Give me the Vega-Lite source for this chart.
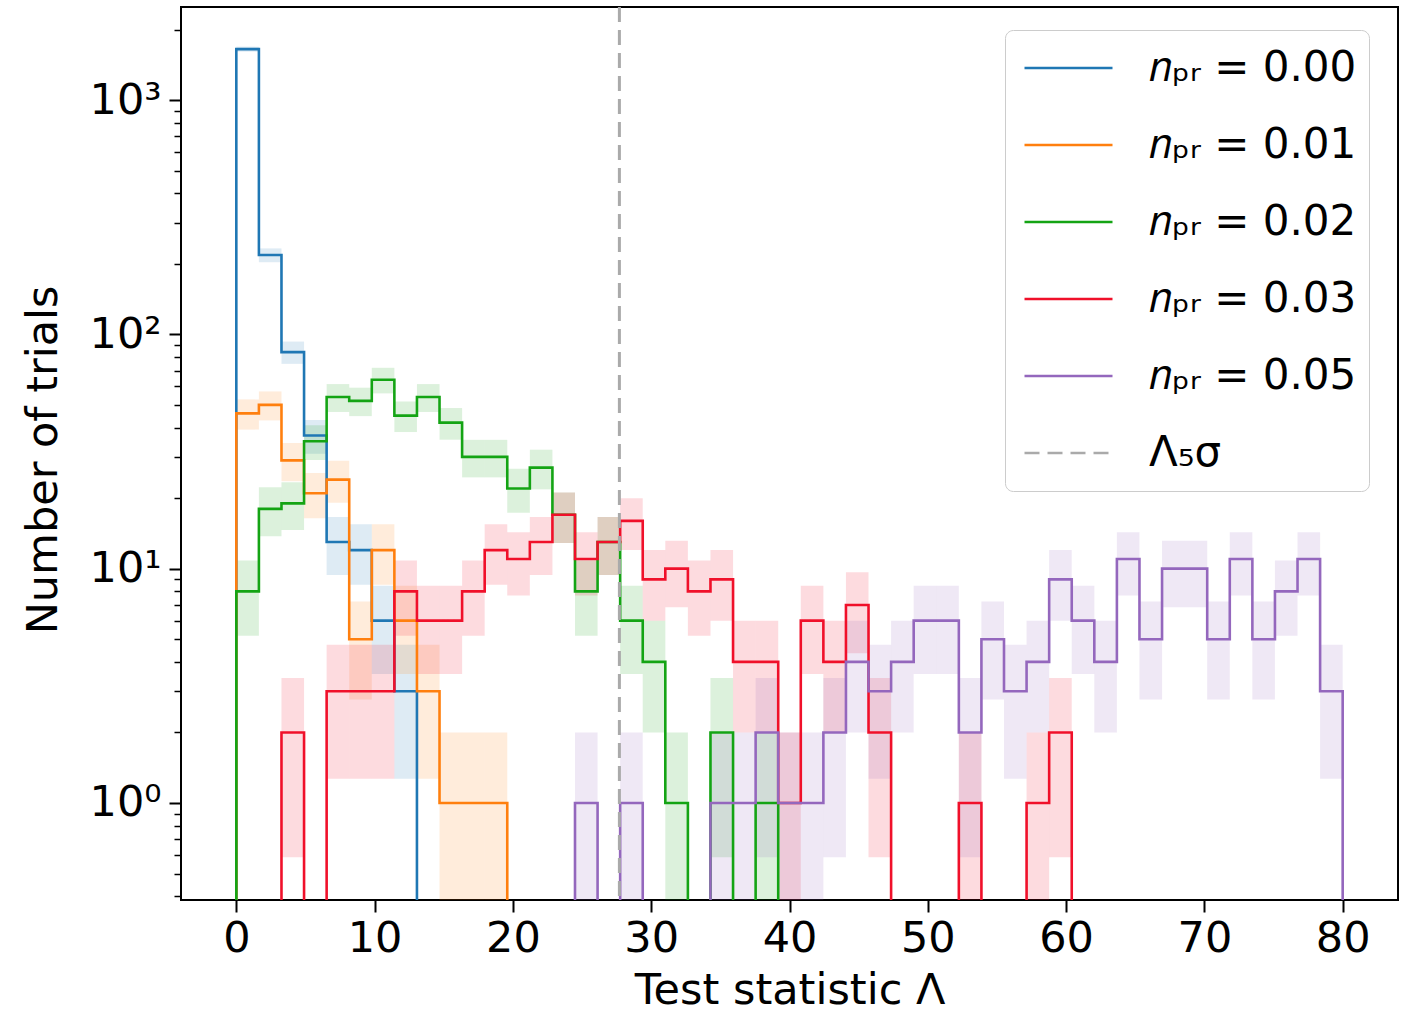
{
  "$schema": "https://vega.github.io/schema/vega-lite/v6.json",
  "width": 1217,
  "height": 893,
  "autosize": {"type": "none"},
  "padding": {"left": 181, "top": 7, "right": 8, "bottom": 115},
  "background": "white",
  "datasets": {
    "err": [
      {"n": 1, "lo": 0, "hi": 2}, {"n": 2, "lo": 0.586, "hi": 3.414}, {"n": 3, "lo": 1.268, "hi": 4.732},
      {"n": 4, "lo": 2, "hi": 6}, {"n": 5, "lo": 2.764, "hi": 7.236}, {"n": 6, "lo": 3.551, "hi": 8.449},
      {"n": 7, "lo": 4.354, "hi": 9.646}, {"n": 8, "lo": 5.172, "hi": 10.828}, {"n": 9, "lo": 6, "hi": 12},
      {"n": 10, "lo": 6.838, "hi": 13.162}, {"n": 11, "lo": 7.683, "hi": 14.317}, {"n": 12, "lo": 8.536, "hi": 15.464},
      {"n": 13, "lo": 9.394, "hi": 16.606}, {"n": 16, "lo": 12, "hi": 20}, {"n": 17, "lo": 12.877, "hi": 21.123},
      {"n": 18, "lo": 13.757, "hi": 22.243}, {"n": 19, "lo": 14.641, "hi": 23.359}, {"n": 21, "lo": 16.417, "hi": 25.583},
      {"n": 22, "lo": 17.31, "hi": 26.69}, {"n": 24, "lo": 19.101, "hi": 28.899}, {"n": 27, "lo": 21.804, "hi": 32.196},
      {"n": 29, "lo": 23.615, "hi": 34.385}, {"n": 30, "lo": 24.523, "hi": 35.477}, {"n": 35, "lo": 29.084, "hi": 40.916},
      {"n": 37, "lo": 30.917, "hi": 43.083}, {"n": 42, "lo": 35.519, "hi": 48.481}, {"n": 45, "lo": 38.292, "hi": 51.708},
      {"n": 46, "lo": 39.218, "hi": 52.782}, {"n": 50, "lo": 42.929, "hi": 57.071}, {"n": 52, "lo": 44.789, "hi": 59.211},
      {"n": 54, "lo": 46.652, "hi": 61.348}, {"n": 64, "lo": 56, "hi": 72}, {"n": 84, "lo": 74.835, "hi": 93.165},
      {"n": 218, "lo": 203.235, "hi": 232.765}, {"n": 1650, "lo": 1609.38, "hi": 1690.62}
    ],
    "bins": [
      {"s":"0.00","i":-1,"x0":0,"x1":0,"n":0},
      {"s":"0.00","i":0,"x0":0,"x1":1.6327,"n":1650},
      {"s":"0.00","i":1,"x0":1.6327,"x1":3.2653,"n":218},
      {"s":"0.00","i":2,"x0":3.2653,"x1":4.898,"n":84},
      {"s":"0.00","i":3,"x0":4.898,"x1":6.5306,"n":37},
      {"s":"0.00","i":4,"x0":6.5306,"x1":8.1633,"n":13},
      {"s":"0.00","i":5,"x0":8.1633,"x1":9.7959,"n":12},
      {"s":"0.00","i":6,"x0":9.7959,"x1":11.4286,"n":6},
      {"s":"0.00","i":7,"x0":11.4286,"x1":13.0612,"n":3},
      {"s":"0.00","i":8,"x0":13.0612,"x1":13.0612,"n":0},

      {"s":"0.01","i":-1,"x0":0,"x1":0,"n":0},
      {"s":"0.01","i":0,"x0":0,"x1":1.6327,"n":46},
      {"s":"0.01","i":1,"x0":1.6327,"x1":3.2653,"n":50},
      {"s":"0.01","i":2,"x0":3.2653,"x1":4.898,"n":29},
      {"s":"0.01","i":3,"x0":4.898,"x1":6.5306,"n":21},
      {"s":"0.01","i":4,"x0":6.5306,"x1":8.1633,"n":24},
      {"s":"0.01","i":5,"x0":8.1633,"x1":9.7959,"n":5},
      {"s":"0.01","i":6,"x0":9.7959,"x1":11.4286,"n":12},
      {"s":"0.01","i":7,"x0":11.4286,"x1":13.0612,"n":6},
      {"s":"0.01","i":8,"x0":13.0612,"x1":14.6939,"n":3},
      {"s":"0.01","i":9,"x0":14.6939,"x1":16.3265,"n":1},
      {"s":"0.01","i":10,"x0":16.3265,"x1":17.9592,"n":1},
      {"s":"0.01","i":11,"x0":17.9592,"x1":19.5918,"n":1},
      {"s":"0.01","i":12,"x0":19.5918,"x1":19.5918,"n":0},

      {"s":"0.02","i":-1,"x0":0,"x1":0,"n":0},
      {"s":"0.02","i":0,"x0":0,"x1":1.6327,"n":8},
      {"s":"0.02","i":1,"x0":1.6327,"x1":3.2653,"n":18},
      {"s":"0.02","i":2,"x0":3.2653,"x1":4.898,"n":19},
      {"s":"0.02","i":3,"x0":4.898,"x1":6.5306,"n":35},
      {"s":"0.02","i":4,"x0":6.5306,"x1":8.1633,"n":54},
      {"s":"0.02","i":5,"x0":8.1633,"x1":9.7959,"n":52},
      {"s":"0.02","i":6,"x0":9.7959,"x1":11.4286,"n":64},
      {"s":"0.02","i":7,"x0":11.4286,"x1":13.0612,"n":45},
      {"s":"0.02","i":8,"x0":13.0612,"x1":14.6939,"n":54},
      {"s":"0.02","i":9,"x0":14.6939,"x1":16.3265,"n":42},
      {"s":"0.02","i":10,"x0":16.3265,"x1":17.9592,"n":30},
      {"s":"0.02","i":11,"x0":17.9592,"x1":19.5918,"n":30},
      {"s":"0.02","i":12,"x0":19.5918,"x1":21.2245,"n":22},
      {"s":"0.02","i":13,"x0":21.2245,"x1":22.8571,"n":27},
      {"s":"0.02","i":14,"x0":22.8571,"x1":24.4898,"n":17},
      {"s":"0.02","i":15,"x0":24.4898,"x1":26.1224,"n":8},
      {"s":"0.02","i":16,"x0":26.1224,"x1":27.7551,"n":13},
      {"s":"0.02","i":17,"x0":27.7551,"x1":29.3878,"n":6},
      {"s":"0.02","i":18,"x0":29.3878,"x1":31.0204,"n":4},
      {"s":"0.02","i":19,"x0":31.0204,"x1":32.6531,"n":1},
      {"s":"0.02","i":20,"x0":32.6531,"x1":34.2857,"n":0},
      {"s":"0.02","i":21,"x0":34.2857,"x1":35.9184,"n":2},
      {"s":"0.02","i":22,"x0":35.9184,"x1":37.551,"n":0},
      {"s":"0.02","i":23,"x0":37.551,"x1":39.1837,"n":1},
      {"s":"0.02","i":24,"x0":39.1837,"x1":39.1837,"n":0},

      {"s":"0.03","i":-1,"x0":0,"x1":0,"n":0},
      {"s":"0.03","i":0,"x0":0,"x1":1.6327,"n":0},
      {"s":"0.03","i":1,"x0":1.6327,"x1":3.2653,"n":0},
      {"s":"0.03","i":2,"x0":3.2653,"x1":4.898,"n":2},
      {"s":"0.03","i":3,"x0":4.898,"x1":6.5306,"n":0},
      {"s":"0.03","i":4,"x0":6.5306,"x1":8.1633,"n":3},
      {"s":"0.03","i":5,"x0":8.1633,"x1":9.7959,"n":3},
      {"s":"0.03","i":6,"x0":9.7959,"x1":11.4286,"n":3},
      {"s":"0.03","i":7,"x0":11.4286,"x1":13.0612,"n":8},
      {"s":"0.03","i":8,"x0":13.0612,"x1":14.6939,"n":6},
      {"s":"0.03","i":9,"x0":14.6939,"x1":16.3265,"n":6},
      {"s":"0.03","i":10,"x0":16.3265,"x1":17.9592,"n":8},
      {"s":"0.03","i":11,"x0":17.9592,"x1":19.5918,"n":12},
      {"s":"0.03","i":12,"x0":19.5918,"x1":21.2245,"n":11},
      {"s":"0.03","i":13,"x0":21.2245,"x1":22.8571,"n":13},
      {"s":"0.03","i":14,"x0":22.8571,"x1":24.4898,"n":17},
      {"s":"0.03","i":15,"x0":24.4898,"x1":26.1224,"n":11},
      {"s":"0.03","i":16,"x0":26.1224,"x1":27.7551,"n":13},
      {"s":"0.03","i":17,"x0":27.7551,"x1":29.3878,"n":16},
      {"s":"0.03","i":18,"x0":29.3878,"x1":31.0204,"n":9},
      {"s":"0.03","i":19,"x0":31.0204,"x1":32.6531,"n":10},
      {"s":"0.03","i":20,"x0":32.6531,"x1":34.2857,"n":8},
      {"s":"0.03","i":21,"x0":34.2857,"x1":35.9184,"n":9},
      {"s":"0.03","i":22,"x0":35.9184,"x1":37.551,"n":4},
      {"s":"0.03","i":23,"x0":37.551,"x1":39.1837,"n":4},
      {"s":"0.03","i":24,"x0":39.1837,"x1":40.8163,"n":1},
      {"s":"0.03","i":25,"x0":40.8163,"x1":42.449,"n":6},
      {"s":"0.03","i":26,"x0":42.449,"x1":44.0816,"n":4},
      {"s":"0.03","i":27,"x0":44.0816,"x1":45.7143,"n":7},
      {"s":"0.03","i":28,"x0":45.7143,"x1":47.3469,"n":2},
      {"s":"0.03","i":29,"x0":47.3469,"x1":48.9796,"n":0},
      {"s":"0.03","i":30,"x0":48.9796,"x1":50.6122,"n":0},
      {"s":"0.03","i":31,"x0":50.6122,"x1":52.2449,"n":0},
      {"s":"0.03","i":32,"x0":52.2449,"x1":53.8776,"n":1},
      {"s":"0.03","i":33,"x0":53.8776,"x1":55.5102,"n":0},
      {"s":"0.03","i":34,"x0":55.5102,"x1":57.1429,"n":0},
      {"s":"0.03","i":35,"x0":57.1429,"x1":58.7755,"n":1},
      {"s":"0.03","i":36,"x0":58.7755,"x1":60.4082,"n":2},
      {"s":"0.03","i":37,"x0":60.4082,"x1":60.4082,"n":0},

      {"s":"0.05","i":14,"x0":24.4898,"x1":24.4898,"n":0},
      {"s":"0.05","i":15,"x0":24.4898,"x1":26.1224,"n":1},
      {"s":"0.05","i":16,"x0":26.1224,"x1":27.7551,"n":0},
      {"s":"0.05","i":17,"x0":27.7551,"x1":29.3878,"n":1},
      {"s":"0.05","i":18,"x0":29.3878,"x1":31.0204,"n":0},
      {"s":"0.05","i":19,"x0":31.0204,"x1":32.6531,"n":0},
      {"s":"0.05","i":20,"x0":32.6531,"x1":34.2857,"n":0},
      {"s":"0.05","i":21,"x0":34.2857,"x1":35.9184,"n":1},
      {"s":"0.05","i":22,"x0":35.9184,"x1":37.551,"n":1},
      {"s":"0.05","i":23,"x0":37.551,"x1":39.1837,"n":2},
      {"s":"0.05","i":24,"x0":39.1837,"x1":40.8163,"n":1},
      {"s":"0.05","i":25,"x0":40.8163,"x1":42.449,"n":1},
      {"s":"0.05","i":26,"x0":42.449,"x1":44.0816,"n":2},
      {"s":"0.05","i":27,"x0":44.0816,"x1":45.7143,"n":4},
      {"s":"0.05","i":28,"x0":45.7143,"x1":47.3469,"n":3},
      {"s":"0.05","i":29,"x0":47.3469,"x1":48.9796,"n":4},
      {"s":"0.05","i":30,"x0":48.9796,"x1":50.6122,"n":6},
      {"s":"0.05","i":31,"x0":50.6122,"x1":52.2449,"n":6},
      {"s":"0.05","i":32,"x0":52.2449,"x1":53.8776,"n":2},
      {"s":"0.05","i":33,"x0":53.8776,"x1":55.5102,"n":5},
      {"s":"0.05","i":34,"x0":55.5102,"x1":57.1429,"n":3},
      {"s":"0.05","i":35,"x0":57.1429,"x1":58.7755,"n":4},
      {"s":"0.05","i":36,"x0":58.7755,"x1":60.4082,"n":9},
      {"s":"0.05","i":37,"x0":60.4082,"x1":62.0408,"n":6},
      {"s":"0.05","i":38,"x0":62.0408,"x1":63.6735,"n":4},
      {"s":"0.05","i":39,"x0":63.6735,"x1":65.3061,"n":11},
      {"s":"0.05","i":40,"x0":65.3061,"x1":66.9388,"n":5},
      {"s":"0.05","i":41,"x0":66.9388,"x1":68.5714,"n":10},
      {"s":"0.05","i":42,"x0":68.5714,"x1":70.2041,"n":10},
      {"s":"0.05","i":43,"x0":70.2041,"x1":71.8367,"n":5},
      {"s":"0.05","i":44,"x0":71.8367,"x1":73.4694,"n":11},
      {"s":"0.05","i":45,"x0":73.4694,"x1":75.102,"n":5},
      {"s":"0.05","i":46,"x0":75.102,"x1":76.7347,"n":8},
      {"s":"0.05","i":47,"x0":76.7347,"x1":78.3673,"n":11},
      {"s":"0.05","i":48,"x0":78.3673,"x1":80,"n":3},
      {"s":"0.05","i":49,"x0":80,"x1":80,"n":0}
    ]
  },
  "layer": [
    {
      "data": {"name": "bins"},
      "transform": [
        {"filter": "datum.n > 0"},
        {"lookup": "n", "from": {"data": {"name": "err"}, "key": "n", "fields": ["lo", "hi"]}}
      ],
      "mark": {"type": "rect", "fillOpacity": 0.15, "strokeWidth": 0, "invalid": "show", "clip": true},
      "encoding": {
        "x": {"field": "x0", "type": "quantitative", "scale": {"domain": [-4, 84], "nice": false, "zero": false},
              "axis": {"values": [0, 10, 20, 30, 40, 50, 60, 70, 80], "format": "d", "title": "Test statistic Λ", "labelPadding": 5, "titlePadding": 9}},
        "x2": {"field": "x1"},
        "y": {"field": "lo", "type": "quantitative",
              "scale": {"type": "log", "domain": [0.3425, 2496], "range": [905, 0], "nice": false, "clamp": true},
              "axis": {"orient": "left", "values": [0.4, 0.5, 0.6, 0.7, 0.8, 0.9, 2, 3, 4, 5, 6, 7, 8, 9, 20, 30, 40, 50, 60, 70, 80, 90, 200, 300, 400, 500, 600, 700, 800, 900, 2000],
                       "labels": false, "tickSize": 7, "tickWidth": 1.5, "title": null, "domain": false}},
        "y2": {"field": "hi"},
        "fill": {"field": "s", "type": "nominal", "legend": null,
                 "scale": {"domain": ["0.00", "0.01", "0.02", "0.03", "0.05"], "range": ["#1f77b4", "#ff7f0e", "#14a414", "#f0102a", "#9467bd"]}}
      }
    },
    {
      "data": {"name": "bins"},
      "mark": {"type": "line", "interpolate": "step-after", "strokeWidth": 2.6, "invalid": "show", "clip": true},
      "encoding": {
        "x": {"field": "x0", "type": "quantitative"},
        "y": {"field": "n", "type": "quantitative",
              "scale": {"type": "log", "domain": [0.3425, 2496], "range": [905, 0], "nice": false, "clamp": true},
              "axis": {"orient": "left", "values": [1, 10, 100, 1000], "title": "Number of trials", "labelPadding": 8, "titlePadding": 24,
                       "labelExpr": "datum.value >= 999 ? '10³' : datum.value >= 99 ? '10²' : datum.value >= 9 ? '10¹' : '10⁰'"}},
        "order": {"field": "i", "type": "quantitative"},
        "color": {"field": "s", "type": "nominal",
                  "scale": {"domain": ["0.00", "0.01", "0.02", "0.03", "0.05", "Λ₅σ"], "range": ["#1f77b4", "#ff7f0e", "#14a414", "#f0102a", "#9467bd", "#aaaaaa"]},
                  "legend": {"title": null, "orient": "none", "legendX": 824, "legendY": 23, "symbolType": "stroke", "symbolSize": 7744,
                             "symbolStrokeWidth": 2.5, "symbolOffset": 6, "labelFont": "DejaVu Sans", "labelFontSize": 42, "labelColor": "black",
                             "labelOffset": 35, "clipHeight": 52, "rowPadding": 25, "padding": 12, "labelLimit": 500,
                             "fillColor": "rgba(255,255,255,0.85)", "strokeColor": "#cccccc", "cornerRadius": 8,
                             "labelExpr": "datum.label == 'Λ₅σ' ? datum.label : '𝑛ₚᵣ = ' + datum.label"}},
        "strokeDash": {"field": "s", "type": "nominal",
                       "scale": {"domain": ["0.00", "0.01", "0.02", "0.03", "0.05", "Λ₅σ"], "range": [[1, 0], [1, 0], [1, 0], [1, 0], [1, 0], [15, 8]]},
                       "legend": {"title": null, "orient": "none", "legendX": 824, "legendY": 23, "symbolType": "stroke", "symbolSize": 7744,
                             "symbolStrokeWidth": 2.5, "symbolOffset": 6, "labelFont": "DejaVu Sans", "labelFontSize": 42, "labelColor": "black",
                             "labelOffset": 35, "clipHeight": 52, "rowPadding": 25, "padding": 12, "labelLimit": 500,
                             "fillColor": "rgba(255,255,255,0.85)", "strokeColor": "#cccccc", "cornerRadius": 8,
                             "labelExpr": "datum.label == 'Λ₅σ' ? datum.label : '𝑛ₚᵣ = ' + datum.label"}}
      }
    },
    {
      "data": {"values": [{"s": "Λ₅σ", "x": 27.7}]},
      "mark": {"type": "rule", "strokeWidth": 3, "clip": true},
      "encoding": {
        "x": {"field": "x", "type": "quantitative"},
        "color": {"field": "s", "type": "nominal", "legend": null,
                  "scale": {"domain": ["0.00", "0.01", "0.02", "0.03", "0.05", "Λ₅σ"], "range": ["#1f77b4", "#ff7f0e", "#14a414", "#f0102a", "#9467bd", "#aaaaaa"]}},
        "strokeDash": {"field": "s", "type": "nominal", "legend": null,
                       "scale": {"domain": ["0.00", "0.01", "0.02", "0.03", "0.05", "Λ₅σ"], "range": [[1, 0], [1, 0], [1, 0], [1, 0], [1, 0], [15, 8]]}}
      }
    }
  ],
  "resolve": {"axis": {"y": "independent"}},
  "config": {
    "view": {"stroke": "black", "strokeWidth": 2},
    "axis": {"labelFont": "DejaVu Sans", "titleFont": "DejaVu Sans", "labelFontSize": 43, "titleFontSize": 43, "titleFontWeight": "normal",
             "labelColor": "black", "titleColor": "black", "tickColor": "black", "tickWidth": 2, "tickSize": 12, "domain": false, "grid": false}
  }
}
